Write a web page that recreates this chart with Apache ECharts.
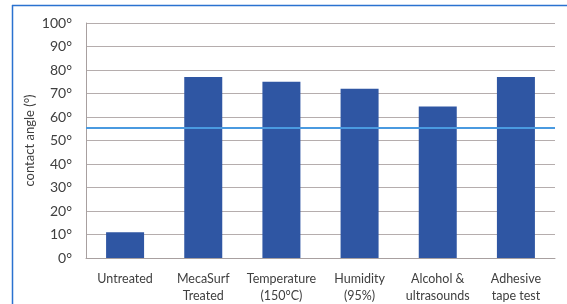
<!DOCTYPE html>
<html>
<head>
<meta charset="utf-8">
<script src="https://cdn.jsdelivr.net/npm/echarts@6/dist/echarts.min.js"></script>
<style>
  html, body { margin: 0; padding: 0; background: #fff; }
  #chart { width: 567px; height: 304px; }
</style>
</head>
<body>
<div id="chart"></div>
<script>
const categories = ['Untreated', 'MecaSurf\nTreated', 'Temperature\n(150°C)', 'Humidity\n(95%)', 'Alcohol &\nultrasounds', 'Adhesive\ntape test'];
const angles = [11, 77, 75, 72, 64.5, 77];
const thresholdAngle = 55.4;

const chart = echarts.init(document.getElementById('chart'));

const option = {
  animation: false,
  textStyle: { fontFamily: 'Lato' },
  grid: { left: 86, right: 12, top: 23, bottom: 45 },
  graphic: [
    // blue frame around the figure
    { type: 'line', shape: { x1: 12, y1: 5.5, x2: 567, y2: 5.5 }, style: { stroke: '#2a72d0', lineWidth: 1.5 } },
    { type: 'line', shape: { x1: 12.5, y1: 5, x2: 12.5, y2: 304 }, style: { stroke: '#2a72d0', lineWidth: 1.5 } }
  ],
  xAxis: {
    type: 'category',
    data: categories,
    axisLine: { lineStyle: { color: '#a8a0a0', width: 1 } },
    axisTick: { show: false },
    axisLabel: { color: '#404040', fontSize: 12.5, margin: 12, lineHeight: 17, interval: 0 }
  },
  yAxis: {
    type: 'value',
    min: 0,
    max: 100,
    interval: 10,
    name: 'contact angle (°)',
    nameLocation: 'middle',
    nameGap: 50,
    nameMoveOverlap: false,
    nameTextStyle: { color: '#404040', fontSize: 13 },
    axisLine: { show: true, lineStyle: { color: '#a8a0a0' } },
    axisTick: { show: false },
    axisLabel: { formatter: '{value}°', color: '#404040', fontSize: 14, margin: 14 },
    splitLine: { lineStyle: { color: '#b5adad', width: 1.2 } }
  },
  series: [
    {
      type: 'bar',
      data: angles,
      barWidth: 38,
      itemStyle: { color: '#2f56a3' },
      markLine: {
        silent: true,
        symbol: 'none',
        label: { show: false },
        lineStyle: { color: '#4a9ae0', width: 2, type: 'solid' },
        data: [{ yAxis: thresholdAngle }]
      }
    }
  ]
};

chart.setOption(option);
</script>
</body>
</html>
